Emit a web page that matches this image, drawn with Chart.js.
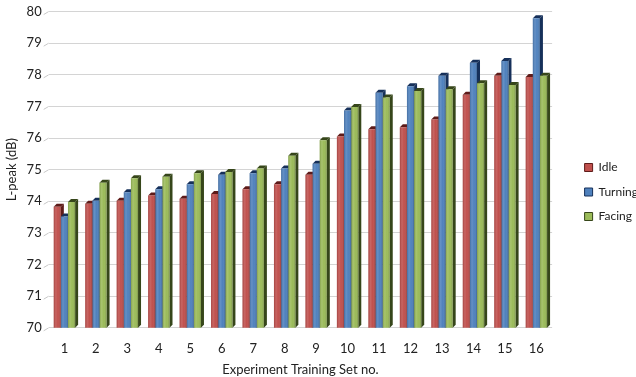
<!DOCTYPE html>
<html>
<head>
<meta charset="utf-8">
<title>L-peak per training set</title>
<script src="https://cdn.jsdelivr.net/npm/chart.js@4.4.1/dist/chart.umd.min.js"></script>
<style>
  html, body { margin: 0; padding: 0; background: #fff; }
  #wrap { width: 636px; height: 377px; }
</style>
</head>
<body>
<div id="wrap"><canvas id="lpeakChart" width="636" height="377"></canvas></div>
<script>
const trainingSets = ['1', '2', '3', '4', '5', '6', '7', '8', '9', '10', '11', '12', '13', '14', '15', '16'];
const idle    = [73.83, 73.92, 74.02, 74.18, 74.08, 74.23, 74.38, 74.54, 74.84, 76.05, 76.28, 76.34, 76.59, 77.37, 77.97, 77.93];
const turning = [73.52, 74.02, 74.29, 74.38, 74.54, 74.84, 74.89, 75.04, 75.19, 76.87, 77.43, 77.64, 77.97, 78.38, 78.44, 79.79];
const facing  = [73.98, 74.59, 74.73, 74.78, 74.89, 74.93, 75.04, 75.44, 75.93, 76.98, 77.28, 77.49, 77.54, 77.73, 77.68, 77.97];
const yTicks  = [70, 71, 72, 73, 74, 75, 76, 77, 78, 79, 80];

const palette = {
    Idle:    { face: '#C0504D', dark: '#5e1b19' },
    Turning: { face: '#4F81BD', dark: '#16305a' },
    Facing:  { face: '#9BBB59', dark: '#36461a' }
};
const DEPTH = 3;
const LEGEND_SHIFT = 20;
const LEGEND_DROP = 7;

// fake 3D: side and top faces go behind, shading goes over the front face
const bars3d = {
    id: 'bars3d',
    beforeDatasetsDraw(chart) {
        const ctx = chart.ctx, floor = chart.chartArea.bottom;
        ctx.save();
        chart.data.datasets.forEach((ds, i) => {
            const dark = palette[ds.label].dark;
            chart.getDatasetMeta(i).data.forEach(bar => {
                const l = bar.x - bar.width / 2, r = bar.x + bar.width / 2;
                const base = Math.min(bar.base, floor);
                ctx.fillStyle = dark;
                ctx.beginPath();
                ctx.moveTo(r, bar.y);
                ctx.lineTo(r + DEPTH, bar.y - DEPTH);
                ctx.lineTo(r + DEPTH, base - DEPTH);
                ctx.lineTo(r, base);
                ctx.closePath();
                ctx.fill();
                ctx.beginPath();
                ctx.moveTo(l, bar.y);
                ctx.lineTo(l + DEPTH, bar.y - DEPTH);
                ctx.lineTo(r + DEPTH, bar.y - DEPTH);
                ctx.lineTo(r, bar.y);
                ctx.closePath();
                ctx.fill();
            });
        });
        ctx.restore();
    },
    afterDatasetsDraw(chart) {
        const ctx = chart.ctx, floor = chart.chartArea.bottom;
        ctx.save();
        chart.data.datasets.forEach((ds, i) => {
            chart.getDatasetMeta(i).data.forEach(bar => {
                const l = bar.x - bar.width / 2;
                const base = Math.min(bar.base, floor);
                const g = ctx.createLinearGradient(l, 0, l + bar.width, 0);
                g.addColorStop(0, 'rgba(0,0,0,0.14)');
                g.addColorStop(0.3, 'rgba(255,255,255,0.12)');
                g.addColorStop(0.6, 'rgba(255,255,255,0)');
                g.addColorStop(1, 'rgba(0,0,0,0.22)');
                ctx.fillStyle = g;
                ctx.fillRect(l, bar.y, bar.width, base - bar.y);
            });
        });
        ctx.restore();
    }
};

// short slanted strokes where the gridlines meet the side wall
const wallTicks = {
    id: 'wallTicks',
    beforeDatasetsDraw(chart) {
        const ctx = chart.ctx, y = chart.scales.y, left = chart.chartArea.left;
        ctx.save();
        ctx.strokeStyle = '#c8c8c8';
        ctx.lineWidth = 1;
        yTicks.forEach(v => {
            const py = y.getPixelForValue(v);
            ctx.beginPath();
            ctx.moveTo(left - 5, py + 3);
            ctx.lineTo(left, py);
            ctx.stroke();
        });
        ctx.restore();
    }
};

// push the legend a little away from the plot
const legendNudge = {
    id: 'legendNudge',
    afterLayout(chart) {
        const lg = chart.legend;
        lg.left += LEGEND_SHIFT;
        lg.right += LEGEND_SHIFT;
        lg.top += LEGEND_DROP;
        lg.bottom += LEGEND_DROP;
    }
};

const makeSet = name => ({
    label: name,
    data: name === 'Idle' ? idle : name === 'Turning' ? turning : facing,
    backgroundColor: palette[name].face,
    borderWidth: 0,
    categoryPercentage: 0.68,
    barPercentage: 1.0
});

new Chart(document.getElementById('lpeakChart'), {
    type: 'bar',
    data: {
        labels: trainingSets,
        datasets: [makeSet('Idle'), makeSet('Turning'), makeSet('Facing')]
    },
    options: {
        responsive: false,
        animation: false,
        layout: { padding: { top: -8, left: 4, right: 8, bottom: -1 } },
        plugins: {
            tooltip: { enabled: false },
            legend: {
                position: 'right',
                labels: {
                    boxWidth: 8,
                    boxHeight: 8,
                    padding: 12.5,
                    color: '#222',
                    font: { family: 'Lato', size: 12 },
                    generateLabels(chart) {
                        return chart.data.datasets.map((ds, i) => ({
                            text: ds.label,
                            fillStyle: palette[ds.label].face,
                            strokeStyle: palette[ds.label].dark,
                            lineWidth: 1,
                            datasetIndex: i,
                            fontColor: '#222'
                        }));
                    }
                }
            }
        },
        scales: {
            x: {
                grid: { display: false },
                border: { display: false },
                ticks: { color: '#222', font: { family: 'Lato', size: 13 }, padding: 5 },
                title: {
                    display: true,
                    text: 'Experiment Training Set no.',
                    color: '#222',
                    font: { family: 'Lato', size: 13 },
                    padding: { top: 1, bottom: 0 }
                }
            },
            y: {
                min: 70,
                max: 80,
                afterBuildTicks(scale) { scale.ticks = yTicks.map(v => ({ value: v })); },
                grid: { color: '#d4d4d4', drawTicks: false },
                border: { display: false },
                ticks: { color: '#222', font: { family: 'Lato', size: 13, lineHeight: 0.7 }, padding: 7 },
                title: {
                    display: true,
                    text: 'L-peak (dB)',
                    color: '#222',
                    font: { family: 'Lato', size: 13 },
                    padding: { top: 0, bottom: 0 }
                }
            }
        }
    },
    plugins: [wallTicks, bars3d, legendNudge]
});
</script>
</body>
</html>
